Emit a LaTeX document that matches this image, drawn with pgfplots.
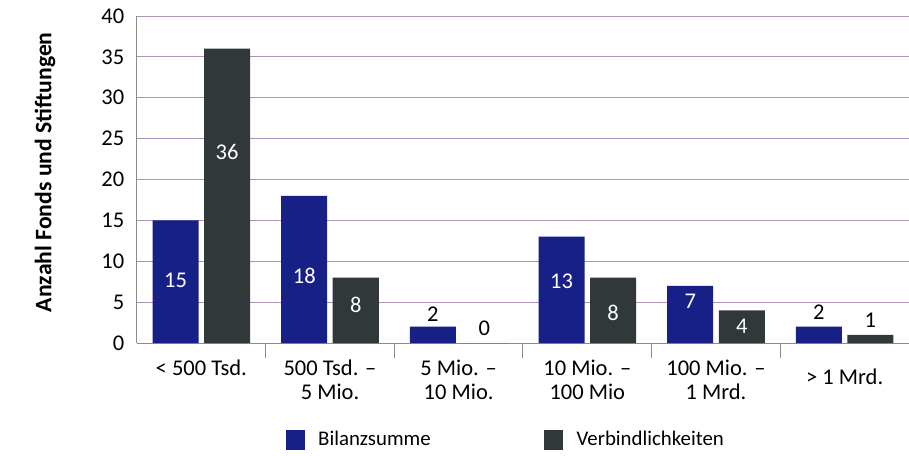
\documentclass[border=0pt]{standalone}
\usepackage{fontspec}
\setmainfont{Carlito}
\usepackage{pgfplots}
\pgfplotsset{compat=1.18}
\definecolor{barblue}{RGB}{22,32,135}
\definecolor{bardark}{RGB}{48,56,58}
\definecolor{gridc}{RGB}{175,145,185}
\definecolor{axisc}{RGB}{140,140,140}
\begin{document}
\fontsize{13.5}{14.4}\selectfont
\begin{tikzpicture}[font=\fontsize{13.5}{14.4}\selectfont]
\path[use as bounding box] (-82.2pt,-67.2pt) rectangle (463.2pt,205.8pt);
\begin{axis}[
  at={(0,0)}, anchor=south west,
  scale only axis,
  width=463.2pt, height=196.2pt,
  xmin=-0.5, xmax=5.5,
  ymin=0, ymax=40,
  ytick={0,5,...,40},
  ymajorgrids,
  grid style={gridc, line width=0.6pt},
  axis x line*=bottom, axis y line*=left,
  axis line style={axisc, line width=0.6pt},
  ytick style={draw=none},
  xtick={0,...,5},
  xticklabels={{< 500 Tsd.},{500 Tsd. –\\5 Mio.},{5 Mio. –\\10 Mio.},{10 Mio. –\\100 Mio},{100 Mio. –\\1 Mrd.},{\rule{0pt}{15.2pt}> 1 Mrd.}},
  xticklabel style={align=center, anchor=north, yshift=-1pt},
  major x tick style={draw=none},
  minor xtick={0.5,1.5,...,4.5},
  minor x tick style={axisc, line width=0.6pt},
  minor tick length=9pt,
  xtick align=outside,
  yticklabel style={xshift=-3pt},
  /pgf/number format/assume math mode=true,
  ylabel={\fontsize{14.2}{16}\selectfont\bfseries Anzahl Fonds und Stiftungen},
  ylabel style={at={(axis description cs:-0.1192,0.522)}, anchor=center},
  bar width=27.6pt,
  legend columns=2,
  legend style={draw=none, fill=none, at={(0.4786,-0.2966)}, anchor=center,
    font=\fontsize{12.5}{14}\selectfont,
    /tikz/every even column/.append style={column sep=66pt}},
  legend image code/.code={\fill[#1] (0pt,-5.8pt) rectangle (11.4pt,5.8pt); \path (17.5pt,0pt);},
]
% bars
\addplot[ybar, bar shift=-15.45pt, fill=barblue, draw=none]
  coordinates {(0,15) (1,18) (2,2) (3,13) (4,7) (5,2)};
\addplot[ybar, bar shift=15.45pt, fill=bardark, draw=none]
  coordinates {(0,36) (1,8) (2,0) (3,8) (4,4) (5,1)};
\legend{Bilanzsumme, Verbindlichkeiten}
% value labels (white, inside bars)
\addplot[forget plot, draw=none, mark=none,
  point meta=explicit, nodes near coords,
  every node near coord/.append style={anchor=center, xshift=-15.45pt, text=white}]
  coordinates {(0,7.71) [15] (1,8.23) [18] (3,7.50) [13] (4,5.05) [7]};
\addplot[forget plot, draw=none, mark=none,
  point meta=explicit, nodes near coords,
  every node near coord/.append style={anchor=center, xshift=15.45pt, text=white}]
  coordinates {(0,23.40) [36] (1,4.65) [8] (3,3.71) [8] (4,1.99) [4]};
% value labels (black, above bars)
\addplot[forget plot, draw=none, mark=none,
  point meta=explicit, nodes near coords,
  every node near coord/.append style={anchor=center, xshift=-15.45pt, text=black}]
  coordinates {(2,3.55) [2] (5,3.74) [2]};
\addplot[forget plot, draw=none, mark=none,
  point meta=explicit, nodes near coords,
  every node near coord/.append style={anchor=center, xshift=15.45pt, text=black}]
  coordinates {(2,1.80) [0] (5,2.81) [1]};
\end{axis}
\end{tikzpicture}
\end{document}
